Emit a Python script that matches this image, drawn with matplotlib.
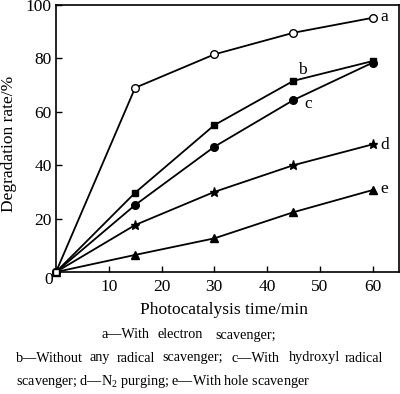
import matplotlib
matplotlib.use("Agg")
import matplotlib.pyplot as plt

plt.rcParams['font.family'] = ['Liberation Serif', 'DejaVu Serif']
plt.rcParams['mathtext.fontset'] = 'custom'
plt.rcParams['mathtext.rm'] = 'Liberation Serif'
plt.rcParams['mathtext.it'] = 'Liberation Serif:italic'

time = [0, 15, 30, 45, 60]
series_a = [0, 69.0, 81.5, 89.6, 95.2]
series_b = [0, 29.7, 55.0, 71.6, 79.0]
series_c = [0, 25.1, 46.9, 64.4, 78.4]
series_d = [0, 17.6, 30.0, 40.0, 47.8]
series_e = [0, 6.4, 12.6, 22.4, 30.7]
names = ['a', 'b', 'c', 'd', 'e']
x_ticks = [10, 20, 30, 40, 50, 60]
y_ticks = [20, 40, 60, 80, 100]

fig = plt.figure(figsize=(4.0, 3.94), dpi=100)
ax = fig.add_axes([56/400, 1-272/394, (399-56)/400, (272-5)/394])

lw = 1.3
ms = 5.5
ax.plot(time, series_a, '-o', color='black', mfc='white', mec='black', lw=lw, ms=ms, mew=1.0, clip_on=False, zorder=3)
ax.plot(time, series_b, '-s', color='black', lw=lw, ms=ms-0.5, clip_on=False, zorder=3)
ax.plot(time, series_c, '-o', color='black', lw=lw, ms=ms, clip_on=False, zorder=3)
ax.plot(time, series_d, '-*', color='black', lw=lw, ms=ms+1, clip_on=False, zorder=3)
ax.plot(time, series_e, '-^', color='black', lw=lw, ms=ms, clip_on=False, zorder=3)
# the origin marker appears as an open square
ax.plot([time[0]], [series_a[0]], 's', color='black', mfc='white', ms=5, clip_on=False, zorder=4)

ax.set_xlim(0, 65)
ax.set_ylim(0, 100)
ax.set_xticks(x_ticks)
ax.set_yticks(y_ticks)
ax.tick_params(direction='in', length=4, width=1, labelsize=12.5, pad=3)
ax.tick_params(axis='x', pad=5)
for s in ax.spines.values():
    s.set_linewidth(1.2)

ax.text(-0.5, -3.0, '0', ha='right', va='center', fontsize=12.5)

# curve labels
lab_pos = [(61.4, 95.5), (45.8, 75.7), (47.0, 62.9), (61.4, 47.6), (61.4, 31.1)]
for n, (lx, ly) in zip(names, lab_pos):
    ax.text(lx, ly, n, fontsize=12.5, ha='left', va='center')

ax.set_xlabel('Photocatalysis time/min', fontsize=12.5)
ax.xaxis.set_label_coords((224.5-56)/343, -(302-272)/267)
ax.set_ylabel('Degradation rate/%', fontsize=12.5)
ax.yaxis.set_label_coords(-(56-17)/343, (272-144)/267)

def put(x, y, s, fs):
    fig.text(x/400, 1-y/394, s, fontsize=fs, ha='left', va='center')

line1 = [(102, 'a—With'), (157, 'electron'), (215, 'scavenger;')]
line2 = [(16, 'b—Without'), (90, 'any'), (117, 'radical'), (162, 'scavenger;'),
         (232, 'c—With'), (289, 'hydroxyl'), (345, 'radical')]
line3 = 'scavenger; d—N$_2$ purging; e—With hole scavenger'
for x, s in line1:
    put(x, 335, s, 10.2)
for x, s in line2:
    put(x, 358, s, 10.2)
put(16, 382, line3, 10.2)

fig.savefig('out.png', dpi=100)
